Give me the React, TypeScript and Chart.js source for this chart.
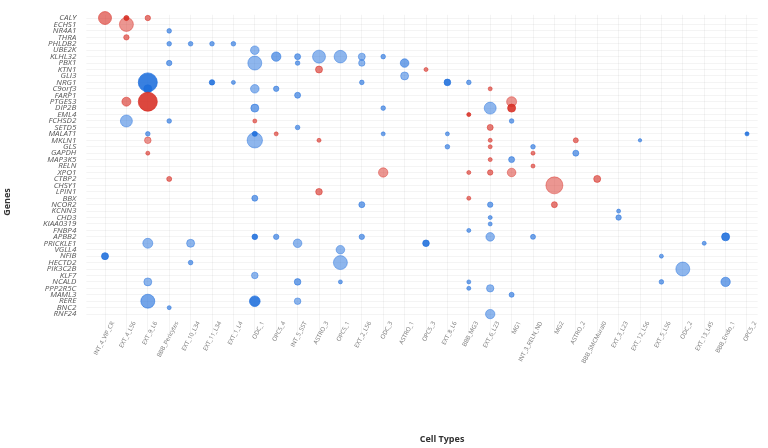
import React, { useEffect, useRef } from 'react';
import { Chart, registerables } from 'chart.js';

Chart.register(...registerables);

const cellTypes = [
  'INT_4_VIP_CR', 'EXT_4_L56', 'EXT_9_L6', 'BBB_Pericytes', 'EXT_10_L34', 'EXT_11_L34', 'EXT_1_L4',
  'ODC_1', 'OPC5_4', 'INT_5_SST', 'ASTRO_3', 'OPC5_1', 'EXT_2_L56', 'ODC_3', 'ASTRO_1', 'OPC5_3',
  'EXT_8_L6', 'BBB_MG3', 'EXT_6_L23', 'MG1', 'INT_3_RELN_ND', 'MG2', 'ASTRO_2', 'BBB_SMCMural0',
  'EXT_3_L23', 'EXT_12_L56', 'EXT_5_L56', 'ODC_2', 'EXT_13_L45', 'BBB_Endo_1', 'OPC5_2',
];

const genes = [
  'CALY', 'ECHS1', 'NR4A1', 'THRA', 'PHLDB2', 'UBE2K', 'KLHL32', 'PBX1', 'KTN1', 'GLI3', 'NRG1',
  'C9orf3', 'FARP1', 'PTGES3', 'DIP2B', 'EML4', 'FCHSD2', 'SETD5', 'MALAT1', 'MKLN1', 'GLS', 'GAPDH',
  'MAP3K5', 'RELN', 'XPO1', 'CTBP2', 'CHSY1', 'LPIN1', 'BBX', 'NCOR2', 'KCNN3', 'CHD3', 'KIAA0319',
  'FNBP4', 'APBB2', 'PRICKLE1', 'VGLL4', 'NFIB', 'HECTD2', 'PIK3C2B', 'KLF7', 'NCALD', 'PPP2R5C',
  'MAML3', 'RERE', 'BNC2', 'RNF24',
];

// [cell type, gene, bubble size, significance level 1-3]
const upregulated: [string, string, number, number][] = [
  ['INT_4_VIP_CR', 'CALY', 6.5, 2],
  ['EXT_4_L56', 'CALY', 2.5, 3],
  ['EXT_9_L6', 'CALY', 2.7, 2],
  ['EXT_4_L56', 'ECHS1', 7, 1],
  ['EXT_4_L56', 'THRA', 2.7, 2],
  ['ASTRO_3', 'KTN1', 3.5, 2],
  ['OPC5_3', 'KTN1', 2, 2],
  ['EXT_6_L23', 'C9orf3', 2, 2],
  ['EXT_4_L56', 'PTGES3', 4.5, 2],
  ['EXT_9_L6', 'PTGES3', 9.5, 3],
  ['MG1', 'PTGES3', 5, 1],
  ['MG1', 'DIP2B', 4, 3],
  ['BBB_MG3', 'EML4', 2, 3],
  ['ODC_1', 'FCHSD2', 2, 2],
  ['EXT_6_L23', 'SETD5', 3, 2],
  ['OPC5_4', 'MALAT1', 2, 2],
  ['EXT_9_L6', 'MKLN1', 3.3, 1],
  ['ASTRO_3', 'MKLN1', 2, 2],
  ['EXT_6_L23', 'MKLN1', 2, 2],
  ['ASTRO_2', 'MKLN1', 2.5, 2],
  ['EXT_6_L23', 'GLS', 2, 2],
  ['EXT_9_L6', 'GAPDH', 2, 2],
  ['INT_3_RELN_ND', 'GAPDH', 2, 2],
  ['EXT_6_L23', 'MAP3K5', 2, 2],
  ['INT_3_RELN_ND', 'RELN', 2, 2],
  ['ODC_3', 'XPO1', 4.7, 1],
  ['BBB_MG3', 'XPO1', 2, 2],
  ['EXT_6_L23', 'XPO1', 2.7, 2],
  ['MG1', 'XPO1', 4.3, 1],
  ['BBB_Pericytes', 'CTBP2', 2.5, 2],
  ['BBB_SMCMural0', 'CTBP2', 3.5, 2],
  ['MG2', 'CHSY1', 8.5, 1],
  ['ASTRO_3', 'LPIN1', 3.3, 2],
  ['BBB_MG3', 'BBX', 2, 2],
  ['MG2', 'NCOR2', 3, 2],
];

const downregulated: [string, string, number, number][] = [
  ['BBB_Pericytes', 'NR4A1', 2.3, 2],
  ['BBB_Pericytes', 'PHLDB2', 2.3, 2],
  ['EXT_10_L34', 'PHLDB2', 2.3, 2],
  ['EXT_11_L34', 'PHLDB2', 2.3, 2],
  ['EXT_1_L4', 'PHLDB2', 2.3, 2],
  ['ODC_1', 'UBE2K', 4.3, 1],
  ['OPC5_4', 'KLHL32', 4.7, 2],
  ['INT_5_SST', 'KLHL32', 3, 2],
  ['ASTRO_3', 'KLHL32', 6.5, 1],
  ['OPC5_1', 'KLHL32', 6.3, 1],
  ['EXT_2_L56', 'KLHL32', 3.5, 1],
  ['ODC_3', 'KLHL32', 2.3, 2],
  ['BBB_Pericytes', 'PBX1', 2.7, 2],
  ['ODC_1', 'PBX1', 7, 1],
  ['INT_5_SST', 'PBX1', 2.3, 2],
  ['EXT_2_L56', 'PBX1', 3.2, 1],
  ['ASTRO_1', 'PBX1', 4.3, 2],
  ['ASTRO_1', 'GLI3', 4, 1],
  ['EXT_9_L6', 'NRG1', 9.5, 3],
  ['EXT_11_L34', 'NRG1', 2.7, 3],
  ['EXT_1_L4', 'NRG1', 2, 2],
  ['EXT_2_L56', 'NRG1', 2.3, 2],
  ['EXT_8_L6', 'NRG1', 3.3, 3],
  ['BBB_MG3', 'NRG1', 2.3, 2],
  ['EXT_9_L6', 'C9orf3', 4, 3],
  ['ODC_1', 'C9orf3', 4.3, 1],
  ['OPC5_4', 'C9orf3', 2.7, 2],
  ['INT_5_SST', 'FARP1', 3, 2],
  ['ODC_1', 'DIP2B', 4, 2],
  ['ODC_3', 'DIP2B', 2.3, 2],
  ['EXT_6_L23', 'DIP2B', 6, 1],
  ['EXT_4_L56', 'FCHSD2', 6, 1],
  ['BBB_Pericytes', 'FCHSD2', 2.3, 2],
  ['MG1', 'FCHSD2', 2.3, 2],
  ['INT_5_SST', 'SETD5', 2.3, 2],
  ['EXT_9_L6', 'MALAT1', 2.3, 2],
  ['ODC_1', 'MALAT1', 2.5, 3],
  ['ODC_3', 'MALAT1', 2, 2],
  ['EXT_8_L6', 'MALAT1', 2, 2],
  ['OPC5_2', 'MALAT1', 2, 3],
  ['ODC_1', 'MKLN1', 7.7, 1],
  ['EXT_12_L56', 'MKLN1', 1.7, 2],
  ['EXT_8_L6', 'GLS', 2.3, 2],
  ['INT_3_RELN_ND', 'GLS', 2.3, 2],
  ['ASTRO_2', 'GAPDH', 3, 2],
  ['MG1', 'MAP3K5', 3, 2],
  ['ODC_1', 'BBX', 3, 2],
  ['EXT_2_L56', 'NCOR2', 3, 2],
  ['EXT_6_L23', 'NCOR2', 2.7, 2],
  ['EXT_3_L23', 'KCNN3', 2, 2],
  ['EXT_6_L23', 'CHD3', 2, 2],
  ['EXT_3_L23', 'CHD3', 2.7, 2],
  ['EXT_6_L23', 'KIAA0319', 2, 2],
  ['BBB_MG3', 'FNBP4', 2, 2],
  ['ODC_1', 'APBB2', 2.8, 3],
  ['OPC5_4', 'APBB2', 2.7, 2],
  ['EXT_2_L56', 'APBB2', 2.7, 2],
  ['EXT_6_L23', 'APBB2', 4.3, 1],
  ['INT_3_RELN_ND', 'APBB2', 2.5, 2],
  ['BBB_Endo_1', 'APBB2', 4, 3],
  ['EXT_9_L6', 'PRICKLE1', 5, 1],
  ['EXT_10_L34', 'PRICKLE1', 4, 1],
  ['INT_5_SST', 'PRICKLE1', 4.3, 1],
  ['OPC5_3', 'PRICKLE1', 3.3, 3],
  ['EXT_13_L45', 'PRICKLE1', 2, 2],
  ['OPC5_1', 'VGLL4', 4.3, 1],
  ['INT_4_VIP_CR', 'NFIB', 3.5, 3],
  ['EXT_5_L56', 'NFIB', 2, 2],
  ['EXT_10_L34', 'HECTD2', 2.3, 2],
  ['OPC5_1', 'HECTD2', 7, 1],
  ['ODC_2', 'PIK3C2B', 7, 1],
  ['ODC_1', 'KLF7', 3.3, 1],
  ['EXT_9_L6', 'NCALD', 4, 1],
  ['INT_5_SST', 'NCALD', 3.3, 2],
  ['OPC5_1', 'NCALD', 2, 2],
  ['BBB_MG3', 'NCALD', 2, 2],
  ['EXT_5_L56', 'NCALD', 2.3, 2],
  ['BBB_Endo_1', 'NCALD', 4.7, 2],
  ['BBB_MG3', 'PPP2R5C', 2, 2],
  ['EXT_6_L23', 'PPP2R5C', 3.7, 1],
  ['MG1', 'MAML3', 2.5, 2],
  ['EXT_9_L6', 'RERE', 7, 2],
  ['ODC_1', 'RERE', 5.3, 3],
  ['INT_5_SST', 'RERE', 3.3, 1],
  ['BBB_Pericytes', 'BNC2', 2, 2],
  ['EXT_6_L23', 'RNF24', 4.7, 1],
];

const xTitle = 'Cell Types';
const yTitle = 'Genes';

const RED = [215, 45, 35];
const BLUE = [30, 110, 220];
const alphaFor = (level: number) => (level >= 3 ? 0.88 : level <= 1 ? 0.5 : 0.62);
const rgba = (c: number[], a: number) => `rgba(${c[0]},${c[1]},${c[2]},${a})`;

const FONT = '"Open Sans", "Noto Sans", sans-serif';

const makeDataset = (label: string, pts: [string, string, number, number][], color: number[]) => ({
  label,
  data: pts.map(([x, y, r]) => ({ x, y, r })),
  backgroundColor: pts.map((p) => rgba(color, alphaFor(p[3]))),
  borderColor: pts.map((p) => rgba(color, Math.min(1, alphaFor(p[3]) + 0.12))),
  borderWidth: 0.7,
});

const axisTitles = {
  id: 'axisTitles',
  afterDraw(chart: any) {
    const { ctx, chartArea } = chart;
    ctx.save();
    ctx.font = `bold 9px ${FONT}`;
    ctx.fillStyle = '#333';
    ctx.textAlign = 'center';
    ctx.textBaseline = 'middle';
    ctx.fillText(xTitle, (chartArea.left + chartArea.right) / 2 + 16, chart.height - 9);
    ctx.translate(7, (chartArea.top + chartArea.bottom) / 2 + 36);
    ctx.rotate(-Math.PI / 2);
    ctx.fillText(yTitle, 0, 0);
    ctx.restore();
  },
};

export default function App() {
  const canvasRef = useRef<HTMLCanvasElement | null>(null);

  useEffect(() => {
    if (!canvasRef.current) return;
    const gridColor = 'rgba(0,0,0,0.045)';
    const chart = new Chart(canvasRef.current, {
      type: 'bubble',
      data: {
        datasets: [
          makeDataset('Upregulated', upregulated, RED),
          makeDataset('Downregulated', downregulated, BLUE),
        ],
      },
      options: {
        animation: false,
        responsive: true,
        maintainAspectRatio: false,
        layout: { padding: { top: 12.8, right: 10.3, left: 0, bottom: 0 } },
        plugins: {
          legend: { display: false },
          tooltip: { enabled: false },
        },
        scales: {
          x: {
            type: 'category',
            labels: cellTypes,
            offset: true,
            border: { display: false },
            grid: { color: gridColor, offset: false, tickLength: 17, drawTicks: true },
            ticks: {
              autoSkip: false,
              minRotation: 62,
              maxRotation: 62,
              padding: -14,
              labelOffset: 8,
              color: '#777',
              font: { size: 6, family: FONT },
            },
            afterFit: (s: any) => {
              s.height = 130.7;
            },
          },
          y: {
            type: 'category',
            labels: genes,
            offset: true,
            border: { display: false },
            grid: { color: gridColor, offset: false, tickLength: 8, drawTicks: true },
            ticks: {
              autoSkip: false,
              padding: 10,
              color: '#555',
              font: { size: 8, style: 'italic', family: FONT },
            },
            afterFit: (s: any) => {
              s.width = 94.3;
            },
          },
        },
      } as any,
      plugins: [axisTitles],
    });
    return () => chart.destroy();
  }, []);

  return (
    <div style={{ position: 'fixed', left: 0, top: 0, width: 768, height: 448, background: '#fff' }}>
      <canvas ref={canvasRef} style={{ display: 'block' }} />
    </div>
  );
}
